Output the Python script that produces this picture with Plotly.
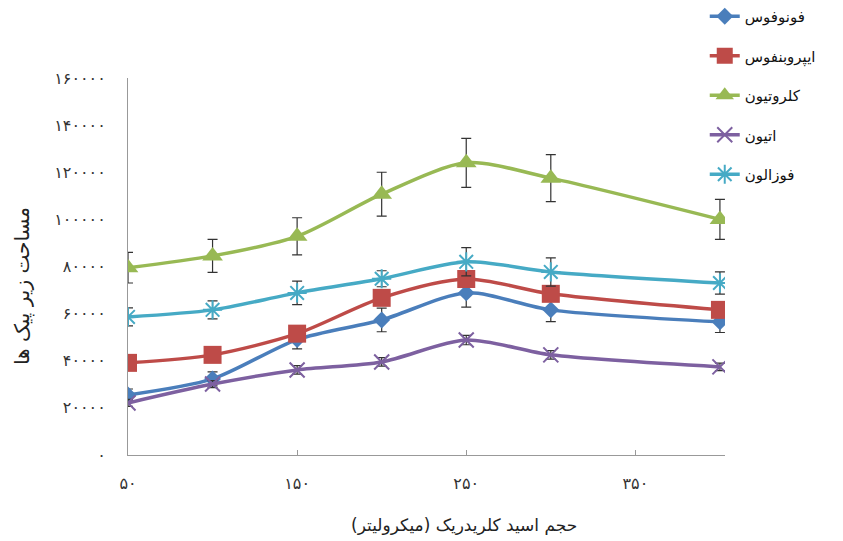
import plotly.graph_objects as go

# Volume of HCl (microlitres)
volumes = [50, 100, 150, 200, 250, 300, 400]

# Peak areas for each pesticide
fonofos = [25500, 32300, 49000, 57300, 68800, 61600, 56500]
iprobenfos = [39100, 42500, 51500, 66700, 74700, 68400, 61600]
chlorthion = [79500, 84500, 92800, 110700, 124000, 117500, 100000]
ethion = [22100, 30100, 36100, 39500, 48800, 42500, 37400]
phosalone = [58600, 61600, 68800, 74800, 82000, 77700, 73000]

# Standard deviations (error bars)
fonofos_err = [2500, 3000, 4000, 5000, 6000, 5000, 4500]
iprobenfos_err = [2000, 2000, 2500, 3000, 3000, 3000, 2500]
chlorthion_err = [6500, 7000, 7900, 9300, 10400, 10000, 8500]
ethion_err = [1500, 1500, 1800, 1800, 2000, 1800, 1600]
phosalone_err = [3800, 3800, 5000, 3400, 6000, 6000, 4700]

names = ["فونوفوس", "ایپروبنفوس", "کلروتیون", "اتیون", "فوزالون"]
colors = ["#4a7ebb", "#be4b48", "#98b954", "#7d60a0", "#46aac5"]
symbols = ["diamond", "square", "triangle-up", "x-thin-open", "asterisk-open"]
sizes = [13, 18, 18, 15, 16]
series = [fonofos, iprobenfos, chlorthion, ethion, phosalone]
errors = [fonofos_err, iprobenfos_err, chlorthion_err, ethion_err, phosalone_err]

y_ticks = [0, 20000, 40000, 60000, 80000, 100000, 120000, 140000, 160000]
x_ticks = [50, 150, 250, 350]

x_title = "حجم اسید کلریدریک (میکرولیتر)"
y_title = "مساحت زیر پیک ها"

persian_digits = str.maketrans("0123456789", "۰۱۲۳۴۵۶۷۸۹")


def fa(n):
    return str(n).translate(persian_digits)


fig = go.Figure()
for i, (name, ys, err) in enumerate(zip(names, series, errors)):
    open_sym = symbols[i].endswith("open")
    fig.add_trace(go.Scatter(
        x=volumes, y=ys, name=name, mode="lines+markers",
        legendgroup=f"g{i}",
        line=dict(color=colors[i], width=3.5, shape="spline", smoothing=0.8),
        marker=dict(symbol=symbols[i], size=sizes[i], color=colors[i],
                    line=dict(color=colors[i], width=2 if open_sym else 0)),
        error_y=dict(type="data", array=err, visible=True, color="#333333",
                     thickness=1.2, width=5),
    ))

fig.update_layout(
    width=843, height=541,
    margin=dict(l=128, r=118, t=78, b=86, autoexpand=False),
    paper_bgcolor="white", plot_bgcolor="white",
    font=dict(family="DejaVu Sans", color="#222222", size=12),
    showlegend=True,
    legend=dict(xref="container", yref="container",
                x=0.836, y=1.0, xanchor="left", yanchor="top",
                traceorder="grouped", tracegroupgap=17,
                font=dict(size=15, color="#111111"),
                bgcolor="rgba(0,0,0,0)"),
    xaxis=dict(
        range=[50, 403], tickvals=x_ticks, ticktext=[fa(v) for v in x_ticks],
        showgrid=False, zeroline=False, showline=True, linecolor="#999999",
        linewidth=1, ticks="inside", ticklen=5, tickcolor="#999999",
        ticklabelstandoff=14, automargin=False,
        tickfont=dict(size=16, color="#333333"),
    ),
    yaxis=dict(
        range=[0, 160000], tickvals=y_ticks, ticktext=[fa(v) for v in y_ticks],
        showgrid=False, zeroline=False, showline=True, linecolor="#999999",
        linewidth=1, ticks="", ticklabelstandoff=18, automargin=False,
        tickfont=dict(size=16, color="#333333"),
    ),
    annotations=[
        dict(text=x_title, xref="paper", yref="paper", x=0.563, y=-0.186,
             xanchor="center", yanchor="middle", showarrow=False,
             font=dict(size=17, color="#222222")),
        dict(text=y_title, xref="paper", yref="paper", x=-0.1776, y=0.448,
             xanchor="center", yanchor="middle", showarrow=False,
             textangle=-90, font=dict(size=20, color="#222222")),
    ],
)

fig.write_html("out.html")
